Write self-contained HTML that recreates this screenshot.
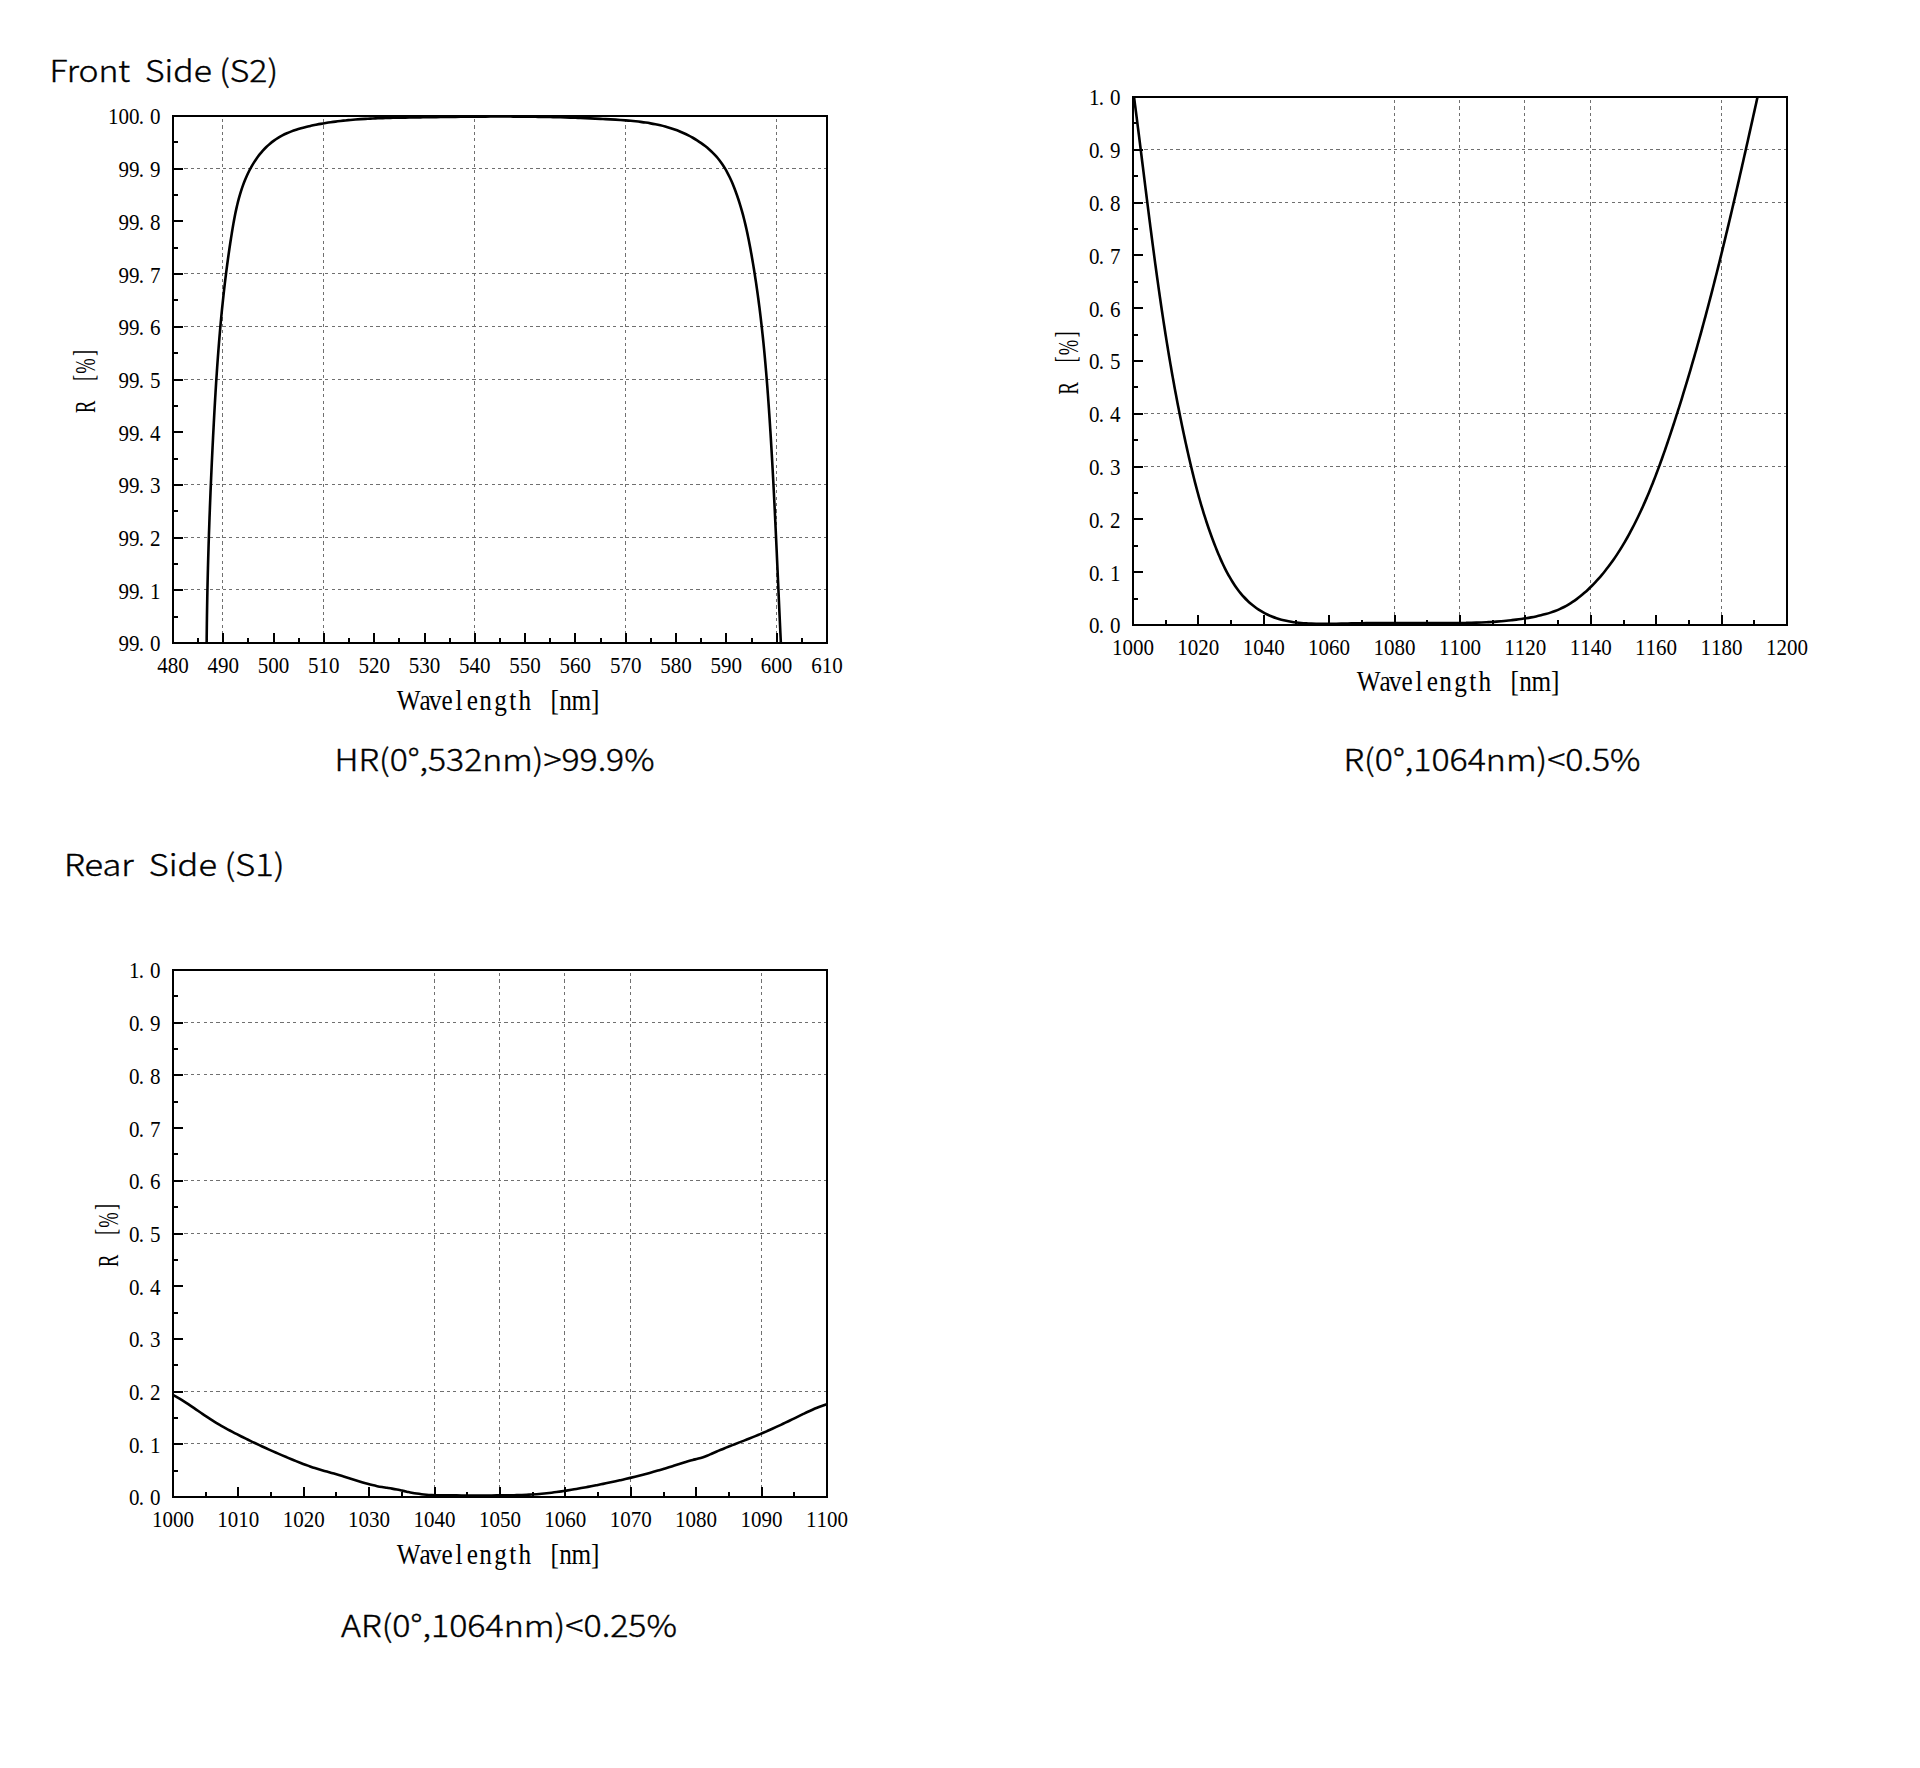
<!DOCTYPE html>
<html lang="en"><head><meta charset="utf-8"><title>Coating curves</title>
<style>
html,body{margin:0;padding:0;background:#fff;}
body{width:1920px;height:1768px;overflow:hidden;}
svg{display:block;}
.tl{font-family:'Liberation Serif', 'Noto Serif CJK SC', serif;font-size:22.9px;fill:#000;}
.at{font-family:'Liberation Serif', 'Noto Serif CJK SC', serif;font-size:29.5px;fill:#000;}
.cap{font-family:'Noto Sans CJK SC', 'Liberation Sans', sans-serif;font-weight:300;fill:#000;stroke:#000;stroke-width:0.4px;white-space:pre;}
.grid{stroke:#707070;stroke-width:1;stroke-dasharray:3.2 3.2;fill:none;shape-rendering:crispEdges;}
.frame{stroke:#000;stroke-width:2;fill:none;shape-rendering:crispEdges;}
.tick{stroke:#000;stroke-width:2;fill:none;shape-rendering:crispEdges;}
.curve{stroke:#000;stroke-width:2.6;fill:none;stroke-linejoin:round;stroke-linecap:butt;}
</style></head><body>
<svg width="1920" height="1768" viewBox="0 0 1920 1768">
<rect x="0" y="0" width="1920" height="1768" fill="#ffffff"/>
<g id="chart1">
<clipPath id="clip1"><rect x="173" y="116" width="654" height="527"/></clipPath>
<path class="grid" d="M222.5 119 V643 M323.5 119 V643 M474.5 119 V643 M625.5 119 V643 M776.5 119 V643 M178 168.5 H826 M178 273.5 H826 M178 326.5 H826 M178 379.5 H826 M178 484.5 H826 M178 537.5 H826 M178 589.5 H826"/>
<path class="tick" d="M198 643 V638 M223 643 V633 M248 643 V638 M274 643 V633 M299 643 V638 M324 643 V633 M349 643 V638 M374 643 V633 M399 643 V638 M425 643 V633 M450 643 V638 M475 643 V633 M500 643 V638 M525 643 V633 M550 643 V638 M575 643 V633 M601 643 V638 M626 643 V633 M651 643 V638 M676 643 V633 M701 643 V638 M726 643 V633 M752 643 V638 M777 643 V633 M802 643 V638 M173 617 H178 M173 590 H183 M173 564 H178 M173 538 H183 M173 511 H178 M173 485 H183 M173 459 H178 M173 432 H183 M173 406 H178 M173 380 H183 M173 353 H178 M173 327 H183 M173 300 H178 M173 274 H183 M173 248 H178 M173 221 H183 M173 195 H178 M173 169 H183 M173 142 H178"/>
<path class="curve" clip-path="url(#clip1)" d="M206.65 642.94 C206.66 642.11 206.68 639.61 206.69 637.95 C206.71 636.29 206.73 634.63 206.74 632.96 C206.76 631.3 206.78 629.64 206.8 627.97 C206.82 626.31 206.84 624.64 206.86 622.98 C206.89 621.32 206.91 619.65 206.93 617.99 C206.96 616.32 206.98 614.66 207.01 612.99 C207.03 611.33 207.06 609.66 207.09 607.99 C207.12 606.33 207.15 604.66 207.18 603 C207.21 601.33 207.24 599.66 207.27 598 C207.3 596.33 207.33 594.66 207.37 593 C207.4 591.33 207.44 589.66 207.47 588 C207.51 586.33 207.55 584.66 207.58 582.99 C207.62 581.33 207.66 579.66 207.7 577.99 C207.74 576.32 207.78 574.66 207.82 572.99 C207.86 571.32 207.91 569.65 207.95 567.98 C207.99 566.31 208.04 564.65 208.08 562.98 C208.13 561.31 208.17 559.64 208.22 557.97 C208.27 556.3 208.32 554.63 208.37 552.97 C208.41 551.3 208.46 549.63 208.52 547.96 C208.57 546.29 208.62 544.62 208.67 542.95 C208.72 541.28 208.78 539.61 208.83 537.94 C208.88 536.27 208.94 534.61 208.99 532.94 C209.05 531.27 209.11 529.6 209.17 527.93 C209.22 526.26 209.28 524.59 209.34 522.92 C209.4 521.25 209.46 519.58 209.52 517.91 C209.58 516.24 209.64 514.57 209.71 512.9 C209.77 511.23 209.83 509.57 209.9 507.9 C209.96 506.23 210.02 504.56 210.09 502.89 C210.16 501.22 210.22 499.55 210.29 497.88 C210.36 496.21 210.43 494.54 210.49 492.87 C210.56 491.21 210.63 489.54 210.7 487.87 C210.77 486.2 210.84 484.53 210.92 482.86 C210.99 481.19 211.06 479.52 211.13 477.86 C211.21 476.19 211.28 474.52 211.36 472.85 C211.43 471.18 211.51 469.52 211.58 467.85 C211.66 466.18 211.74 464.51 211.81 462.84 C211.89 461.18 211.97 459.51 212.05 457.84 C212.13 456.17 212.21 454.51 212.29 452.84 C212.37 451.17 212.45 449.51 212.53 447.84 C212.62 446.17 212.7 444.51 212.78 442.84 C212.86 441.17 212.95 439.51 213.03 437.84 C213.12 436.18 213.2 434.51 213.29 432.85 C213.38 431.18 213.46 429.51 213.55 427.85 C213.64 426.18 213.72 424.52 213.81 422.86 C213.9 421.19 213.99 419.53 214.08 417.86 C214.17 416.2 214.26 414.53 214.35 412.87 C214.45 411.21 214.54 409.54 214.63 407.88 C214.73 406.22 214.82 404.55 214.92 402.89 C215.01 401.23 215.11 399.56 215.21 397.9 C215.31 396.24 215.41 394.58 215.51 392.92 C215.61 391.25 215.71 389.59 215.81 387.93 C215.91 386.27 216.02 384.61 216.12 382.94 C216.23 381.28 216.34 379.62 216.45 377.96 C216.55 376.3 216.66 374.64 216.78 372.98 C216.89 371.32 217 369.65 217.12 367.99 C217.23 366.33 217.35 364.67 217.47 363.01 C217.59 361.35 217.71 359.69 217.83 358.03 C217.95 356.37 218.07 354.71 218.2 353.05 C218.33 351.39 218.45 349.73 218.58 348.07 C218.71 346.41 218.84 344.75 218.98 343.09 C219.11 341.43 219.25 339.77 219.39 338.11 C219.52 336.45 219.66 334.79 219.81 333.14 C219.95 331.48 220.09 329.82 220.24 328.16 C220.39 326.5 220.54 324.84 220.69 323.18 C220.84 321.52 221 319.86 221.15 318.2 C221.31 316.55 221.47 314.89 221.63 313.23 C221.79 311.57 221.96 309.91 222.12 308.25 C222.29 306.59 222.46 304.93 222.63 303.28 C222.81 301.62 222.98 299.96 223.16 298.3 C223.34 296.64 223.52 294.98 223.7 293.32 C223.89 291.67 224.07 290.01 224.26 288.35 C224.46 286.69 224.65 285.03 224.84 283.37 C225.04 281.71 225.24 280.05 225.44 278.4 C225.64 276.74 225.85 275.08 226.06 273.42 C226.27 271.76 226.48 270.1 226.7 268.44 C226.91 266.79 227.13 265.13 227.35 263.47 C227.58 261.81 227.8 260.15 228.03 258.49 C228.26 256.83 228.49 255.17 228.73 253.52 C228.97 251.86 229.21 250.2 229.45 248.54 C229.69 246.88 229.94 245.22 230.19 243.56 C230.44 241.9 230.7 240.24 230.96 238.58 C231.22 236.92 231.48 235.26 231.75 233.6 C232.01 231.94 232.28 230.28 232.56 228.63 C232.84 226.97 233.12 225.31 233.41 223.65 C233.7 222 234 220.34 234.31 218.69 C234.62 217.04 234.94 215.4 235.27 213.75 C235.61 212.11 235.95 210.47 236.32 208.84 C236.68 207.21 237.05 205.58 237.45 203.96 C237.84 202.34 238.25 200.72 238.68 199.12 C239.11 197.51 239.56 195.91 240.03 194.32 C240.5 192.73 240.99 191.15 241.51 189.58 C242.03 188 242.57 186.44 243.14 184.89 C243.7 183.34 244.29 181.8 244.92 180.27 C245.54 178.75 246.19 177.23 246.87 175.73 C247.55 174.22 248.26 172.73 249 171.26 C249.75 169.79 250.52 168.32 251.33 166.88 C252.15 165.43 252.99 164 253.88 162.59 C254.76 161.18 255.68 159.78 256.64 158.42 C257.6 157.05 258.59 155.7 259.63 154.4 C260.66 153.09 261.74 151.81 262.85 150.57 C263.97 149.33 265.12 148.13 266.32 146.98 C267.51 145.83 268.75 144.72 270.02 143.66 C271.29 142.59 272.61 141.58 273.95 140.61 C275.29 139.64 276.67 138.73 278.08 137.86 C279.48 136.99 280.92 136.18 282.39 135.41 C283.85 134.64 285.35 133.93 286.86 133.26 C288.38 132.58 289.92 131.96 291.48 131.37 C293.04 130.78 294.62 130.24 296.21 129.72 C297.8 129.2 299.41 128.73 301.03 128.27 C302.64 127.82 304.28 127.4 305.91 126.99 C307.54 126.59 309.19 126.22 310.83 125.85 C312.47 125.49 314.12 125.15 315.77 124.82 C317.42 124.5 319.06 124.18 320.71 123.89 C322.36 123.59 324.01 123.31 325.66 123.04 C327.31 122.77 328.96 122.51 330.61 122.27 C332.26 122.03 333.92 121.8 335.57 121.59 C337.22 121.37 338.88 121.17 340.53 120.97 C342.19 120.78 343.84 120.6 345.5 120.43 C347.16 120.26 348.81 120.1 350.47 119.95 C352.13 119.8 353.79 119.66 355.45 119.53 C357.11 119.4 358.77 119.28 360.43 119.17 C362.09 119.06 363.75 118.95 365.41 118.86 C367.07 118.76 368.74 118.67 370.4 118.59 C372.06 118.51 373.73 118.43 375.39 118.36 C377.05 118.29 378.72 118.23 380.38 118.17 C382.05 118.11 383.71 118.06 385.38 118.01 C387.05 117.96 388.71 117.92 390.38 117.88 C392.05 117.83 393.71 117.8 395.38 117.76 C397.05 117.73 398.72 117.7 400.38 117.67 C402.05 117.64 403.72 117.61 405.39 117.58 C407.06 117.56 408.73 117.53 410.4 117.5 C412.07 117.48 413.74 117.46 415.41 117.43 C417.08 117.41 418.75 117.38 420.42 117.35 C422.09 117.33 423.76 117.3 425.43 117.28 C427.1 117.26 428.77 117.23 430.44 117.21 C432.11 117.18 433.79 117.16 435.46 117.13 C437.13 117.11 438.8 117.09 440.47 117.06 C442.14 117.04 443.81 117.02 445.49 116.99 C447.16 116.97 448.83 116.95 450.5 116.93 C452.17 116.91 453.84 116.89 455.51 116.87 C457.19 116.85 458.86 116.83 460.53 116.81 C462.2 116.79 463.87 116.77 465.54 116.75 C467.21 116.74 468.88 116.72 470.55 116.7 C472.23 116.69 473.9 116.68 475.57 116.66 C477.24 116.65 478.91 116.64 480.58 116.63 C482.25 116.61 483.92 116.6 485.59 116.6 C487.25 116.59 488.92 116.58 490.59 116.57 C492.26 116.57 493.93 116.56 495.6 116.56 C497.27 116.56 498.93 116.55 500.6 116.55 C502.27 116.55 503.93 116.55 505.6 116.56 C507.27 116.56 508.93 116.56 510.6 116.57 C512.26 116.57 513.93 116.58 515.59 116.59 C517.26 116.6 518.92 116.61 520.58 116.62 C522.25 116.64 523.91 116.65 525.57 116.67 C527.24 116.69 528.9 116.7 530.56 116.72 C532.22 116.74 533.89 116.77 535.55 116.79 C537.21 116.82 538.87 116.84 540.53 116.87 C542.19 116.9 543.86 116.93 545.52 116.96 C547.18 116.99 548.84 117.03 550.5 117.06 C552.16 117.1 553.83 117.14 555.49 117.18 C557.15 117.22 558.81 117.26 560.48 117.31 C562.14 117.35 563.8 117.4 565.47 117.45 C567.13 117.5 568.79 117.55 570.46 117.61 C572.12 117.66 573.79 117.72 575.45 117.78 C577.12 117.83 578.78 117.9 580.45 117.96 C582.11 118.02 583.78 118.09 585.45 118.16 C587.12 118.23 588.79 118.3 590.46 118.37 C592.13 118.44 593.8 118.52 595.47 118.6 C597.14 118.68 598.81 118.76 600.48 118.84 C602.16 118.92 603.83 119.01 605.51 119.1 C607.18 119.19 608.86 119.28 610.54 119.37 C612.21 119.47 613.89 119.56 615.57 119.67 C617.25 119.77 618.93 119.88 620.61 119.99 C622.29 120.11 623.97 120.23 625.64 120.36 C627.32 120.49 629 120.63 630.67 120.79 C632.34 120.94 634.01 121.11 635.68 121.29 C637.35 121.47 639.01 121.66 640.67 121.87 C642.33 122.09 643.99 122.31 645.64 122.56 C647.29 122.8 648.94 123.07 650.58 123.36 C652.22 123.64 653.85 123.95 655.48 124.28 C657.11 124.61 658.73 124.96 660.35 125.34 C661.96 125.72 663.57 126.12 665.17 126.56 C666.77 126.99 668.36 127.45 669.94 127.94 C671.52 128.43 673.1 128.95 674.66 129.51 C676.22 130.06 677.77 130.64 679.32 131.26 C680.86 131.88 682.39 132.54 683.9 133.22 C685.42 133.91 686.92 134.63 688.4 135.38 C689.89 136.14 691.35 136.93 692.8 137.75 C694.25 138.57 695.67 139.43 697.08 140.32 C698.48 141.21 699.86 142.13 701.21 143.09 C702.56 144.05 703.89 145.04 705.19 146.06 C706.49 147.09 707.76 148.15 709 149.24 C710.23 150.34 711.44 151.46 712.61 152.62 C713.78 153.78 714.92 154.98 716.02 156.21 C717.12 157.44 718.18 158.7 719.2 160 C720.22 161.3 721.2 162.63 722.14 163.99 C723.08 165.36 723.97 166.76 724.83 168.18 C725.7 169.6 726.52 171.06 727.31 172.53 C728.1 174 728.85 175.5 729.58 177.01 C730.31 178.53 731.01 180.06 731.68 181.6 C732.36 183.14 733 184.7 733.63 186.27 C734.26 187.83 734.86 189.4 735.45 190.98 C736.04 192.55 736.6 194.13 737.16 195.71 C737.71 197.3 738.24 198.89 738.76 200.48 C739.27 202.07 739.77 203.67 740.26 205.27 C740.75 206.86 741.22 208.47 741.67 210.07 C742.13 211.68 742.57 213.29 743 214.9 C743.43 216.51 743.84 218.13 744.25 219.75 C744.65 221.37 745.04 222.99 745.42 224.61 C745.81 226.24 746.18 227.86 746.54 229.49 C746.9 231.12 747.25 232.75 747.59 234.38 C747.93 236.01 748.27 237.65 748.59 239.28 C748.92 240.92 749.24 242.55 749.55 244.19 C749.87 245.83 750.17 247.47 750.47 249.11 C750.78 250.75 751.07 252.39 751.37 254.03 C751.66 255.67 751.95 257.31 752.23 258.96 C752.51 260.6 752.79 262.24 753.07 263.89 C753.34 265.53 753.61 267.18 753.88 268.82 C754.15 270.47 754.41 272.11 754.67 273.76 C754.93 275.41 755.18 277.06 755.43 278.7 C755.68 280.35 755.93 282 756.18 283.65 C756.42 285.3 756.66 286.95 756.89 288.6 C757.13 290.25 757.36 291.9 757.59 293.55 C757.82 295.2 758.05 296.85 758.27 298.51 C758.49 300.16 758.71 301.81 758.92 303.46 C759.14 305.12 759.35 306.77 759.56 308.43 C759.76 310.08 759.97 311.74 760.17 313.39 C760.37 315.05 760.57 316.7 760.77 318.36 C760.96 320.01 761.15 321.67 761.34 323.33 C761.53 324.98 761.72 326.64 761.9 328.3 C762.09 329.96 762.27 331.62 762.44 333.27 C762.62 334.93 762.8 336.59 762.97 338.25 C763.14 339.91 763.31 341.57 763.48 343.23 C763.64 344.89 763.81 346.55 763.97 348.21 C764.13 349.87 764.29 351.53 764.45 353.19 C764.6 354.85 764.76 356.52 764.91 358.18 C765.06 359.84 765.21 361.5 765.36 363.16 C765.51 364.83 765.65 366.49 765.79 368.15 C765.94 369.81 766.08 371.48 766.22 373.14 C766.36 374.8 766.49 376.47 766.63 378.13 C766.76 379.79 766.9 381.46 767.03 383.12 C767.16 384.79 767.29 386.45 767.42 388.11 C767.54 389.78 767.67 391.44 767.79 393.11 C767.92 394.77 768.04 396.44 768.16 398.1 C768.28 399.77 768.4 401.43 768.52 403.1 C768.64 404.76 768.75 406.43 768.87 408.09 C768.98 409.76 769.1 411.42 769.21 413.09 C769.32 414.75 769.44 416.42 769.55 418.08 C769.66 419.75 769.76 421.41 769.87 423.08 C769.98 424.74 770.09 426.41 770.19 428.08 C770.3 429.74 770.4 431.41 770.51 433.07 C770.61 434.74 770.72 436.4 770.82 438.07 C770.92 439.73 771.02 441.4 771.12 443.06 C771.22 444.73 771.32 446.4 771.42 448.06 C771.52 449.73 771.61 451.39 771.71 453.06 C771.81 454.72 771.9 456.39 772 458.05 C772.09 459.72 772.19 461.38 772.28 463.05 C772.38 464.72 772.47 466.38 772.56 468.05 C772.65 469.71 772.74 471.38 772.83 473.04 C772.92 474.71 773.01 476.37 773.1 478.04 C773.19 479.71 773.28 481.37 773.37 483.04 C773.46 484.7 773.54 486.37 773.63 488.03 C773.72 489.7 773.8 491.36 773.89 493.03 C773.97 494.7 774.06 496.36 774.14 498.03 C774.23 499.69 774.31 501.36 774.39 503.02 C774.48 504.69 774.56 506.36 774.64 508.02 C774.72 509.69 774.81 511.35 774.89 513.02 C774.97 514.68 775.05 516.35 775.13 518.02 C775.21 519.68 775.29 521.35 775.37 523.01 C775.45 524.68 775.53 526.35 775.61 528.01 C775.69 529.68 775.76 531.34 775.84 533.01 C775.92 534.68 776 536.34 776.08 538.01 C776.15 539.67 776.23 541.34 776.31 543.01 C776.38 544.67 776.46 546.34 776.54 548 C776.61 549.67 776.69 551.34 776.77 553 C776.84 554.67 776.92 556.34 776.99 558 C777.07 559.67 777.14 561.33 777.22 563 C777.3 564.67 777.37 566.33 777.45 568 C777.52 569.67 777.6 571.33 777.67 573 C777.75 574.67 777.82 576.33 777.9 578 C777.97 579.67 778.04 581.33 778.12 583 C778.19 584.67 778.27 586.33 778.34 588 C778.42 589.67 778.49 591.33 778.57 593 C778.64 594.67 778.72 596.33 778.79 598 C778.87 599.67 778.94 601.33 779.02 603 C779.09 604.67 779.17 606.34 779.24 608 C779.32 609.67 779.4 611.34 779.47 613 C779.55 614.67 779.62 616.34 779.7 618.01 C779.78 619.67 779.85 621.34 779.93 623.01 C780.01 624.68 780.08 626.34 780.16 628.01 C780.24 629.68 780.31 631.35 780.39 633.01 C780.47 634.68 780.55 636.35 780.63 638.02 C780.71 639.68 780.82 642.19 780.86 643.02"/>
<rect class="frame" x="173" y="116" width="654" height="527"/>
<g class="tl">
<text transform="translate(157.15 673) scale(0.917 1)" x="0 11.45 22.9" y="0">480</text>
<text transform="translate(207.46 673) scale(0.917 1)" x="0 11.45 22.9" y="0">490</text>
<text transform="translate(257.77 673) scale(0.917 1)" x="0 11.45 22.9" y="0">500</text>
<text transform="translate(308.07 673) scale(0.917 1)" x="0 11.45 22.9" y="0">510</text>
<text transform="translate(358.38 673) scale(0.917 1)" x="0 11.45 22.9" y="0">520</text>
<text transform="translate(408.69 673) scale(0.917 1)" x="0 11.45 22.9" y="0">530</text>
<text transform="translate(459 673) scale(0.917 1)" x="0 11.45 22.9" y="0">540</text>
<text transform="translate(509.3 673) scale(0.917 1)" x="0 11.45 22.9" y="0">550</text>
<text transform="translate(559.61 673) scale(0.917 1)" x="0 11.45 22.9" y="0">560</text>
<text transform="translate(609.92 673) scale(0.917 1)" x="0 11.45 22.9" y="0">570</text>
<text transform="translate(660.23 673) scale(0.917 1)" x="0 11.45 22.9" y="0">580</text>
<text transform="translate(710.53 673) scale(0.917 1)" x="0 11.45 22.9" y="0">590</text>
<text transform="translate(760.84 673) scale(0.917 1)" x="0 11.45 22.9" y="0">600</text>
<text transform="translate(811.15 673) scale(0.917 1)" x="0 11.45 22.9" y="0">610</text>
<text transform="translate(118.5 651.4) scale(0.917 1)" x="0 11.45 22.03 34.35" y="0">99.0</text>
<text transform="translate(118.5 598.7) scale(0.917 1)" x="0 11.45 22.03 34.35" y="0">99.1</text>
<text transform="translate(118.5 546) scale(0.917 1)" x="0 11.45 22.03 34.35" y="0">99.2</text>
<text transform="translate(118.5 493.3) scale(0.917 1)" x="0 11.45 22.03 34.35" y="0">99.3</text>
<text transform="translate(118.5 440.6) scale(0.917 1)" x="0 11.45 22.03 34.35" y="0">99.4</text>
<text transform="translate(118.5 387.9) scale(0.917 1)" x="0 11.45 22.03 34.35" y="0">99.5</text>
<text transform="translate(118.5 335.2) scale(0.917 1)" x="0 11.45 22.03 34.35" y="0">99.6</text>
<text transform="translate(118.5 282.5) scale(0.917 1)" x="0 11.45 22.03 34.35" y="0">99.7</text>
<text transform="translate(118.5 229.8) scale(0.917 1)" x="0 11.45 22.03 34.35" y="0">99.8</text>
<text transform="translate(118.5 177.1) scale(0.917 1)" x="0 11.45 22.03 34.35" y="0">99.9</text>
<text transform="translate(108 124.4) scale(0.917 1)" x="0 11.45 22.9 33.48 45.8" y="0">100.0</text>
</g>
<text class="at" transform="translate(397.95 709.5) scale(0.855 1)" x="-1.4 25.26 36.26 50.99 67.37 80.58 94.97 112.75 130.06 141.05 157.89 178.48 188.77 203.04 225.73" y="0">Wavelength [nm]</text>
<text class="at" transform="translate(95 379.5) rotate(-90) scale(0.63 1)" x="-53.17 -25.12 -2.37 9.14 37.31" y="0 0 -2.4 0 -2.4">R [%]</text>
</g>
<g id="chart2">
<clipPath id="clip2"><rect x="1133" y="97" width="654" height="528"/></clipPath>
<path class="grid" d="M1394.5 100 V625 M1459.5 100 V625 M1524.5 100 V625 M1590.5 100 V625 M1721.5 100 V625 M1138 149.5 H1786 M1138 202.5 H1786 M1138 413.5 H1786 M1138 466.5 H1786"/>
<path class="tick" d="M1166 625 V620 M1198 625 V615 M1231 625 V620 M1264 625 V615 M1296 625 V620 M1329 625 V615 M1362 625 V620 M1395 625 V615 M1427 625 V620 M1460 625 V615 M1493 625 V620 M1525 625 V615 M1558 625 V620 M1591 625 V615 M1624 625 V620 M1656 625 V615 M1689 625 V620 M1722 625 V615 M1754 625 V620 M1133 599 H1138 M1133 572 H1143 M1133 546 H1138 M1133 519 H1143 M1133 493 H1138 M1133 467 H1143 M1133 440 H1138 M1133 414 H1143 M1133 387 H1138 M1133 361 H1143 M1133 335 H1138 M1133 308 H1143 M1133 282 H1138 M1133 255 H1143 M1133 229 H1138 M1133 203 H1143 M1133 176 H1138 M1133 150 H1143 M1133 123 H1138"/>
<path class="curve" clip-path="url(#clip2)" d="M1134.11 97.64 C1134.21 98.47 1134.54 100.93 1134.75 102.58 C1134.96 104.23 1135.18 105.87 1135.39 107.52 C1135.6 109.17 1135.81 110.81 1136.03 112.46 C1136.24 114.11 1136.45 115.76 1136.66 117.4 C1136.87 119.05 1137.08 120.7 1137.29 122.35 C1137.5 124 1137.71 125.65 1137.92 127.3 C1138.13 128.95 1138.33 130.6 1138.54 132.25 C1138.75 133.9 1138.96 135.55 1139.17 137.2 C1139.37 138.85 1139.58 140.5 1139.79 142.15 C1139.99 143.81 1140.2 145.46 1140.41 147.11 C1140.61 148.76 1140.82 150.41 1141.03 152.07 C1141.23 153.72 1141.44 155.37 1141.64 157.03 C1141.85 158.68 1142.06 160.33 1142.26 161.99 C1142.47 163.64 1142.67 165.29 1142.88 166.95 C1143.08 168.6 1143.29 170.25 1143.5 171.91 C1143.7 173.56 1143.91 175.22 1144.11 176.87 C1144.32 178.53 1144.52 180.18 1144.73 181.84 C1144.94 183.49 1145.14 185.15 1145.35 186.8 C1145.56 188.46 1145.76 190.11 1145.97 191.77 C1146.18 193.43 1146.38 195.08 1146.59 196.74 C1146.8 198.39 1147.01 200.05 1147.21 201.7 C1147.42 203.36 1147.63 205.02 1147.84 206.67 C1148.05 208.33 1148.26 209.98 1148.47 211.64 C1148.68 213.3 1148.89 214.95 1149.1 216.61 C1149.31 218.27 1149.52 219.92 1149.73 221.58 C1149.94 223.24 1150.15 224.89 1150.37 226.55 C1150.58 228.2 1150.79 229.86 1151.01 231.52 C1151.22 233.17 1151.43 234.83 1151.65 236.49 C1151.86 238.14 1152.08 239.8 1152.3 241.46 C1152.51 243.11 1152.73 244.77 1152.95 246.42 C1153.17 248.08 1153.39 249.74 1153.61 251.39 C1153.83 253.05 1154.05 254.7 1154.27 256.36 C1154.49 258.02 1154.71 259.67 1154.93 261.33 C1155.16 262.98 1155.38 264.64 1155.61 266.29 C1155.83 267.95 1156.06 269.6 1156.28 271.26 C1156.51 272.91 1156.74 274.57 1156.97 276.22 C1157.2 277.88 1157.43 279.53 1157.66 281.19 C1157.89 282.84 1158.12 284.5 1158.35 286.15 C1158.59 287.8 1158.82 289.46 1159.06 291.11 C1159.29 292.76 1159.53 294.42 1159.77 296.07 C1160.01 297.72 1160.25 299.38 1160.49 301.03 C1160.73 302.68 1160.97 304.33 1161.21 305.99 C1161.46 307.64 1161.7 309.29 1161.95 310.94 C1162.2 312.59 1162.44 314.24 1162.69 315.9 C1162.94 317.55 1163.19 319.2 1163.44 320.85 C1163.7 322.5 1163.95 324.15 1164.2 325.8 C1164.46 327.45 1164.72 329.1 1164.97 330.74 C1165.23 332.39 1165.49 334.04 1165.75 335.69 C1166.01 337.34 1166.28 338.99 1166.54 340.63 C1166.81 342.28 1167.07 343.93 1167.34 345.58 C1167.61 347.22 1167.88 348.87 1168.15 350.51 C1168.42 352.16 1168.7 353.81 1168.97 355.45 C1169.25 357.1 1169.52 358.74 1169.8 360.38 C1170.08 362.03 1170.36 363.67 1170.65 365.31 C1170.93 366.96 1171.21 368.6 1171.5 370.24 C1171.79 371.89 1172.08 373.53 1172.37 375.17 C1172.66 376.81 1172.95 378.45 1173.24 380.09 C1173.54 381.73 1173.84 383.37 1174.14 385.01 C1174.43 386.65 1174.74 388.29 1175.04 389.92 C1175.34 391.56 1175.65 393.2 1175.96 394.84 C1176.26 396.47 1176.57 398.11 1176.89 399.75 C1177.2 401.38 1177.51 403.02 1177.83 404.65 C1178.15 406.29 1178.46 407.92 1178.79 409.55 C1179.11 411.19 1179.43 412.82 1179.76 414.45 C1180.08 416.08 1180.41 417.71 1180.74 419.35 C1181.07 420.98 1181.41 422.61 1181.74 424.24 C1182.08 425.86 1182.42 427.49 1182.76 429.12 C1183.1 430.75 1183.44 432.38 1183.79 434 C1184.14 435.63 1184.49 437.26 1184.84 438.88 C1185.19 440.51 1185.54 442.13 1185.9 443.75 C1186.26 445.38 1186.62 447 1186.98 448.62 C1187.34 450.25 1187.71 451.87 1188.07 453.49 C1188.44 455.11 1188.81 456.73 1189.19 458.35 C1189.56 459.97 1189.94 461.59 1190.32 463.2 C1190.7 464.82 1191.08 466.44 1191.47 468.05 C1191.86 469.67 1192.25 471.28 1192.64 472.9 C1193.04 474.51 1193.44 476.12 1193.84 477.74 C1194.25 479.35 1194.66 480.96 1195.07 482.57 C1195.48 484.18 1195.9 485.79 1196.33 487.4 C1196.75 489 1197.18 490.61 1197.62 492.22 C1198.05 493.82 1198.5 495.43 1198.94 497.03 C1199.39 498.63 1199.85 500.24 1200.31 501.84 C1200.77 503.44 1201.24 505.04 1201.71 506.64 C1202.19 508.24 1202.67 509.83 1203.16 511.43 C1203.65 513.03 1204.14 514.62 1204.65 516.22 C1205.15 517.81 1205.67 519.4 1206.19 520.99 C1206.71 522.58 1207.24 524.17 1207.78 525.76 C1208.31 527.35 1208.86 528.94 1209.42 530.52 C1209.97 532.11 1210.54 533.69 1211.11 535.27 C1211.69 536.86 1212.27 538.44 1212.86 540.02 C1213.46 541.6 1214.06 543.17 1214.67 544.75 C1215.29 546.33 1215.91 547.9 1216.55 549.47 C1217.18 551.05 1217.83 552.62 1218.49 554.18 C1219.15 555.75 1219.82 557.31 1220.5 558.87 C1221.19 560.42 1221.89 561.97 1222.61 563.5 C1223.33 565.04 1224.06 566.56 1224.81 568.08 C1225.56 569.59 1226.33 571.09 1227.12 572.57 C1227.91 574.05 1228.72 575.52 1229.56 576.97 C1230.39 578.42 1231.24 579.86 1232.12 581.26 C1233 582.67 1233.9 584.06 1234.82 585.43 C1235.75 586.79 1236.7 588.14 1237.68 589.45 C1238.66 590.76 1239.67 592.05 1240.7 593.31 C1241.74 594.57 1242.8 595.8 1243.9 597 C1245 598.19 1246.12 599.36 1247.28 600.49 C1248.44 601.62 1249.63 602.71 1250.86 603.77 C1252.09 604.83 1253.35 605.85 1254.65 606.83 C1255.94 607.81 1257.28 608.75 1258.65 609.65 C1260.02 610.54 1261.43 611.4 1262.86 612.21 C1264.3 613.02 1265.77 613.78 1267.27 614.5 C1268.76 615.22 1270.29 615.89 1271.83 616.51 C1273.38 617.13 1274.95 617.7 1276.54 618.23 C1278.12 618.75 1279.73 619.22 1281.35 619.65 C1282.96 620.08 1284.6 620.46 1286.24 620.8 C1287.88 621.15 1289.53 621.45 1291.19 621.73 C1292.84 622 1294.5 622.24 1296.17 622.45 C1297.83 622.66 1299.49 622.85 1301.15 623 C1302.82 623.16 1304.48 623.29 1306.15 623.41 C1307.82 623.52 1309.49 623.6 1311.16 623.67 C1312.82 623.75 1314.49 623.79 1316.17 623.83 C1317.84 623.87 1319.51 623.88 1321.18 623.89 C1322.85 623.9 1324.52 623.89 1326.2 623.88 C1327.87 623.87 1329.54 623.84 1331.21 623.81 C1332.89 623.78 1334.56 623.74 1336.23 623.7 C1337.91 623.67 1339.58 623.62 1341.25 623.58 C1342.92 623.54 1344.59 623.5 1346.27 623.46 C1347.94 623.42 1349.61 623.39 1351.28 623.35 C1352.95 623.32 1354.62 623.29 1356.29 623.27 C1357.95 623.24 1359.62 623.22 1361.29 623.19 C1362.96 623.17 1364.63 623.15 1366.29 623.14 C1367.96 623.12 1369.63 623.11 1371.29 623.09 C1372.96 623.08 1374.63 623.07 1376.29 623.06 C1377.96 623.05 1379.62 623.04 1381.29 623.04 C1382.95 623.03 1384.62 623.03 1386.28 623.03 C1387.95 623.02 1389.61 623.02 1391.28 623.02 C1392.94 623.02 1394.61 623.02 1396.27 623.03 C1397.94 623.03 1399.6 623.03 1401.27 623.03 C1402.93 623.04 1404.6 623.04 1406.26 623.05 C1407.93 623.05 1409.59 623.05 1411.26 623.06 C1412.92 623.06 1414.59 623.07 1416.25 623.08 C1417.92 623.08 1419.58 623.09 1421.25 623.09 C1422.92 623.1 1424.58 623.1 1426.25 623.11 C1427.92 623.11 1429.58 623.11 1431.25 623.12 C1432.92 623.12 1434.59 623.12 1436.25 623.12 C1437.92 623.13 1439.59 623.13 1441.26 623.13 C1442.93 623.13 1444.6 623.12 1446.27 623.12 C1447.94 623.12 1449.61 623.11 1451.28 623.1 C1452.95 623.09 1454.62 623.08 1456.29 623.06 C1457.96 623.05 1459.63 623.03 1461.3 623 C1462.97 622.98 1464.64 622.95 1466.31 622.92 C1467.98 622.88 1469.65 622.84 1471.32 622.8 C1472.99 622.75 1474.66 622.7 1476.33 622.65 C1478 622.59 1479.67 622.53 1481.34 622.45 C1483 622.38 1484.67 622.31 1486.34 622.22 C1488.01 622.13 1489.67 622.04 1491.34 621.93 C1493 621.83 1494.67 621.72 1496.33 621.59 C1498 621.47 1499.66 621.34 1501.32 621.2 C1502.98 621.06 1504.65 620.9 1506.31 620.74 C1507.97 620.58 1509.62 620.4 1511.28 620.22 C1512.94 620.03 1514.6 619.83 1516.25 619.62 C1517.91 619.41 1519.56 619.19 1521.21 618.95 C1522.87 618.71 1524.52 618.47 1526.17 618.2 C1527.82 617.94 1529.46 617.66 1531.11 617.36 C1532.75 617.06 1534.39 616.75 1536.02 616.41 C1537.65 616.07 1539.27 615.71 1540.89 615.32 C1542.5 614.93 1544.11 614.52 1545.7 614.07 C1547.29 613.62 1548.87 613.15 1550.44 612.63 C1552.01 612.12 1553.56 611.58 1555.09 610.99 C1556.63 610.4 1558.15 609.78 1559.65 609.11 C1561.14 608.44 1562.62 607.73 1564.08 606.98 C1565.54 606.22 1566.98 605.42 1568.39 604.58 C1569.81 603.74 1571.2 602.86 1572.58 601.95 C1573.96 601.03 1575.31 600.08 1576.65 599.09 C1577.98 598.11 1579.3 597.09 1580.59 596.04 C1581.89 595 1583.16 593.92 1584.42 592.82 C1585.68 591.72 1586.92 590.6 1588.13 589.45 C1589.35 588.31 1590.55 587.14 1591.73 585.96 C1592.91 584.77 1594.08 583.57 1595.22 582.36 C1596.36 581.14 1597.49 579.91 1598.6 578.67 C1599.71 577.42 1600.8 576.16 1601.87 574.89 C1602.94 573.62 1604 572.33 1605.04 571.03 C1606.08 569.73 1607.11 568.42 1608.11 567.09 C1609.12 565.77 1610.11 564.43 1611.09 563.08 C1612.07 561.73 1613.03 560.38 1613.98 559.01 C1614.93 557.64 1615.86 556.25 1616.78 554.86 C1617.7 553.47 1618.61 552.07 1619.5 550.66 C1620.39 549.26 1621.27 547.84 1622.14 546.41 C1623 544.98 1623.86 543.55 1624.7 542.11 C1625.54 540.66 1626.37 539.21 1627.19 537.76 C1628.01 536.3 1628.82 534.84 1629.61 533.37 C1630.41 531.9 1631.19 530.42 1631.97 528.94 C1632.74 527.46 1633.51 525.98 1634.27 524.49 C1635.02 523 1635.77 521.5 1636.5 520 C1637.24 518.51 1637.97 517 1638.69 515.5 C1639.41 513.99 1640.12 512.48 1640.82 510.97 C1641.52 509.46 1642.22 507.94 1642.9 506.42 C1643.59 504.9 1644.27 503.38 1644.94 501.85 C1645.61 500.33 1646.27 498.8 1646.93 497.27 C1647.58 495.73 1648.23 494.2 1648.88 492.66 C1649.52 491.12 1650.15 489.58 1650.78 488.04 C1651.41 486.49 1652.03 484.95 1652.65 483.4 C1653.26 481.85 1653.87 480.3 1654.48 478.75 C1655.08 477.19 1655.68 475.64 1656.27 474.08 C1656.86 472.52 1657.45 470.96 1658.03 469.4 C1658.61 467.84 1659.19 466.27 1659.76 464.71 C1660.34 463.14 1660.9 461.57 1661.47 460 C1662.03 458.43 1662.59 456.86 1663.14 455.29 C1663.7 453.72 1664.25 452.14 1664.8 450.57 C1665.34 448.99 1665.89 447.42 1666.43 445.84 C1666.97 444.26 1667.5 442.68 1668.04 441.1 C1668.57 439.52 1669.1 437.94 1669.63 436.36 C1670.16 434.78 1670.69 433.19 1671.21 431.61 C1671.73 430.03 1672.26 428.44 1672.77 426.86 C1673.29 425.27 1673.81 423.69 1674.33 422.1 C1674.84 420.52 1675.35 418.93 1675.86 417.34 C1676.37 415.75 1676.88 414.17 1677.39 412.58 C1677.89 410.99 1678.4 409.4 1678.9 407.81 C1679.4 406.22 1679.9 404.63 1680.4 403.04 C1680.89 401.44 1681.39 399.85 1681.88 398.26 C1682.37 396.67 1682.86 395.07 1683.35 393.48 C1683.84 391.88 1684.33 390.29 1684.81 388.7 C1685.3 387.1 1685.78 385.5 1686.26 383.91 C1686.74 382.31 1687.22 380.71 1687.7 379.12 C1688.18 377.52 1688.65 375.92 1689.12 374.32 C1689.6 372.72 1690.07 371.12 1690.54 369.52 C1691.01 367.92 1691.47 366.32 1691.94 364.72 C1692.41 363.12 1692.87 361.52 1693.33 359.92 C1693.79 358.32 1694.25 356.71 1694.71 355.11 C1695.17 353.51 1695.63 351.9 1696.08 350.3 C1696.54 348.7 1696.99 347.09 1697.44 345.49 C1697.89 343.88 1698.34 342.27 1698.79 340.67 C1699.24 339.06 1699.68 337.46 1700.13 335.85 C1700.57 334.24 1701.01 332.63 1701.46 331.03 C1701.9 329.42 1702.34 327.81 1702.78 326.2 C1703.21 324.59 1703.65 322.98 1704.08 321.37 C1704.52 319.76 1704.95 318.15 1705.39 316.54 C1705.82 314.93 1706.25 313.32 1706.68 311.71 C1707.11 310.1 1707.53 308.48 1707.96 306.87 C1708.38 305.26 1708.81 303.65 1709.23 302.03 C1709.65 300.42 1710.08 298.8 1710.5 297.19 C1710.92 295.58 1711.34 293.96 1711.75 292.35 C1712.17 290.73 1712.59 289.12 1713 287.5 C1713.42 285.89 1713.83 284.27 1714.24 282.65 C1714.65 281.04 1715.07 279.42 1715.47 277.8 C1715.88 276.19 1716.29 274.57 1716.7 272.95 C1717.11 271.33 1717.51 269.72 1717.92 268.1 C1718.32 266.48 1718.73 264.86 1719.13 263.24 C1719.53 261.62 1719.93 260 1720.33 258.38 C1720.73 256.76 1721.13 255.14 1721.53 253.52 C1721.93 251.9 1722.32 250.28 1722.72 248.66 C1723.12 247.04 1723.51 245.42 1723.9 243.8 C1724.3 242.18 1724.69 240.56 1725.08 238.93 C1725.47 237.31 1725.86 235.69 1726.25 234.07 C1726.64 232.45 1727.03 230.82 1727.42 229.2 C1727.81 227.58 1728.19 225.96 1728.58 224.33 C1728.97 222.71 1729.35 221.09 1729.73 219.46 C1730.12 217.84 1730.5 216.21 1730.88 214.59 C1731.27 212.97 1731.65 211.34 1732.03 209.72 C1732.41 208.09 1732.79 206.47 1733.17 204.84 C1733.55 203.22 1733.93 201.59 1734.3 199.97 C1734.68 198.34 1735.06 196.72 1735.44 195.09 C1735.81 193.47 1736.19 191.84 1736.56 190.22 C1736.94 188.59 1737.31 186.97 1737.69 185.34 C1738.06 183.71 1738.43 182.09 1738.8 180.46 C1739.18 178.83 1739.55 177.21 1739.92 175.58 C1740.29 173.96 1740.66 172.33 1741.03 170.7 C1741.4 169.08 1741.77 167.45 1742.14 165.82 C1742.51 164.2 1742.88 162.57 1743.25 160.94 C1743.61 159.31 1743.98 157.69 1744.35 156.06 C1744.72 154.43 1745.08 152.81 1745.45 151.18 C1745.82 149.55 1746.18 147.93 1746.55 146.3 C1746.91 144.67 1747.28 143.04 1747.64 141.42 C1748.01 139.79 1748.37 138.16 1748.74 136.53 C1749.1 134.91 1749.46 133.28 1749.83 131.65 C1750.19 130.02 1750.55 128.4 1750.92 126.77 C1751.28 125.14 1751.64 123.51 1752.01 121.89 C1752.37 120.26 1752.73 118.63 1753.09 117.01 C1753.45 115.38 1753.82 113.75 1754.18 112.12 C1754.54 110.5 1754.9 108.87 1755.26 107.24 C1755.63 105.62 1755.99 103.99 1756.35 102.36 C1756.71 100.73 1757.25 98.29 1757.43 97.48"/>
<rect class="frame" x="1133" y="97" width="654" height="528"/>
<g class="tl">
<text transform="translate(1111.9 655) scale(0.917 1)" x="0 11.45 22.9 34.35" y="0">1000</text>
<text transform="translate(1177.3 655) scale(0.917 1)" x="0 11.45 22.9 34.35" y="0">1020</text>
<text transform="translate(1242.7 655) scale(0.917 1)" x="0 11.45 22.9 34.35" y="0">1040</text>
<text transform="translate(1308.1 655) scale(0.917 1)" x="0 11.45 22.9 34.35" y="0">1060</text>
<text transform="translate(1373.5 655) scale(0.917 1)" x="0 11.45 22.9 34.35" y="0">1080</text>
<text transform="translate(1438.9 655) scale(0.917 1)" x="0 11.45 22.9 34.35" y="0">1100</text>
<text transform="translate(1504.3 655) scale(0.917 1)" x="0 11.45 22.9 34.35" y="0">1120</text>
<text transform="translate(1569.7 655) scale(0.917 1)" x="0 11.45 22.9 34.35" y="0">1140</text>
<text transform="translate(1635.1 655) scale(0.917 1)" x="0 11.45 22.9 34.35" y="0">1160</text>
<text transform="translate(1700.5 655) scale(0.917 1)" x="0 11.45 22.9 34.35" y="0">1180</text>
<text transform="translate(1765.9 655) scale(0.917 1)" x="0 11.45 22.9 34.35" y="0">1200</text>
<text transform="translate(1089 633.4) scale(0.917 1)" x="0 10.58 22.9" y="0">0.0</text>
<text transform="translate(1089 580.6) scale(0.917 1)" x="0 10.58 22.9" y="0">0.1</text>
<text transform="translate(1089 527.8) scale(0.917 1)" x="0 10.58 22.9" y="0">0.2</text>
<text transform="translate(1089 475) scale(0.917 1)" x="0 10.58 22.9" y="0">0.3</text>
<text transform="translate(1089 422.2) scale(0.917 1)" x="0 10.58 22.9" y="0">0.4</text>
<text transform="translate(1089 369.4) scale(0.917 1)" x="0 10.58 22.9" y="0">0.5</text>
<text transform="translate(1089 316.6) scale(0.917 1)" x="0 10.58 22.9" y="0">0.6</text>
<text transform="translate(1089 263.8) scale(0.917 1)" x="0 10.58 22.9" y="0">0.7</text>
<text transform="translate(1089 211) scale(0.917 1)" x="0 10.58 22.9" y="0">0.8</text>
<text transform="translate(1089 158.2) scale(0.917 1)" x="0 10.58 22.9" y="0">0.9</text>
<text transform="translate(1089 105.4) scale(0.917 1)" x="0 10.58 22.9" y="0">1.0</text>
</g>
<text class="at" transform="translate(1357.95 690.8) scale(0.855 1)" x="-1.4 25.26 36.26 50.99 67.37 80.58 94.97 112.75 130.06 141.05 157.89 178.48 188.77 203.04 225.73" y="0">Wavelength [nm]</text>
<text class="at" transform="translate(1077.6 361) rotate(-90) scale(0.63 1)" x="-53.17 -25.12 -2.37 9.14 37.31" y="0 0 -2.4 0 -2.4">R [%]</text>
</g>
<g id="chart3">
<clipPath id="clip3"><rect x="173" y="970" width="654" height="527"/></clipPath>
<path class="grid" d="M434.5 973 V1497 M499.5 973 V1497 M564.5 973 V1497 M630.5 973 V1497 M761.5 973 V1497 M178 1022.5 H826 M178 1074.5 H826 M178 1180.5 H826 M178 1233.5 H826 M178 1391.5 H826 M178 1443.5 H826"/>
<path class="tick" d="M206 1497 V1492 M238 1497 V1487 M271 1497 V1492 M304 1497 V1487 M336 1497 V1492 M369 1497 V1487 M402 1497 V1492 M435 1497 V1487 M467 1497 V1492 M500 1497 V1487 M533 1497 V1492 M565 1497 V1487 M598 1497 V1492 M631 1497 V1487 M664 1497 V1492 M696 1497 V1487 M729 1497 V1492 M762 1497 V1487 M794 1497 V1492 M173 1471 H178 M173 1444 H183 M173 1418 H178 M173 1392 H183 M173 1365 H178 M173 1339 H183 M173 1313 H178 M173 1286 H183 M173 1260 H178 M173 1234 H183 M173 1207 H178 M173 1181 H183 M173 1154 H178 M173 1128 H183 M173 1102 H178 M173 1075 H183 M173 1049 H178 M173 1023 H183 M173 996 H178"/>
<path class="curve" clip-path="url(#clip3)" d="M172.98 1394.84 C173.7 1395.25 175.9 1396.45 177.35 1397.29 C178.79 1398.14 180.21 1399 181.63 1399.89 C183.05 1400.77 184.45 1401.67 185.85 1402.58 C187.25 1403.5 188.63 1404.43 190.02 1405.36 C191.4 1406.29 192.78 1407.24 194.15 1408.18 C195.53 1409.13 196.9 1410.08 198.28 1411.03 C199.65 1411.97 201.03 1412.92 202.41 1413.86 C203.79 1414.8 205.17 1415.73 206.57 1416.65 C207.96 1417.57 209.36 1418.49 210.76 1419.38 C212.17 1420.28 213.59 1421.16 215.01 1422.03 C216.44 1422.89 217.87 1423.75 219.31 1424.59 C220.75 1425.44 222.2 1426.27 223.65 1427.09 C225.11 1427.91 226.57 1428.72 228.03 1429.52 C229.5 1430.32 230.97 1431.1 232.45 1431.89 C233.92 1432.67 235.41 1433.44 236.89 1434.2 C238.38 1434.96 239.87 1435.72 241.36 1436.47 C242.85 1437.22 244.35 1437.96 245.84 1438.69 C247.34 1439.43 248.84 1440.16 250.35 1440.88 C251.85 1441.61 253.36 1442.32 254.87 1443.03 C256.37 1443.75 257.88 1444.45 259.4 1445.16 C260.91 1445.86 262.43 1446.55 263.94 1447.25 C265.46 1447.94 266.98 1448.62 268.5 1449.31 C270.02 1449.99 271.54 1450.67 273.07 1451.34 C274.59 1452.02 276.12 1452.69 277.65 1453.35 C279.18 1454.02 280.71 1454.69 282.24 1455.34 C283.77 1456 285.3 1456.66 286.83 1457.31 C288.37 1457.96 289.91 1458.61 291.45 1459.25 C292.98 1459.89 294.53 1460.52 296.07 1461.14 C297.62 1461.76 299.17 1462.37 300.72 1462.97 C302.27 1463.57 303.83 1464.16 305.39 1464.73 C306.96 1465.3 308.52 1465.86 310.09 1466.41 C311.67 1466.95 313.24 1467.48 314.83 1467.98 C316.41 1468.49 318 1468.98 319.59 1469.47 C321.19 1469.95 322.79 1470.41 324.39 1470.88 C325.99 1471.34 327.59 1471.79 329.19 1472.25 C330.8 1472.71 332.4 1473.16 334.01 1473.62 C335.61 1474.08 337.21 1474.54 338.81 1475.01 C340.42 1475.48 342.01 1475.97 343.61 1476.46 C345.21 1476.95 346.81 1477.44 348.4 1477.94 C349.99 1478.44 351.59 1478.95 353.18 1479.45 C354.77 1479.95 356.36 1480.46 357.95 1480.96 C359.54 1481.46 361.13 1481.96 362.72 1482.44 C364.31 1482.92 365.9 1483.4 367.51 1483.84 C369.11 1484.28 370.71 1484.71 372.33 1485.1 C373.94 1485.48 375.56 1485.84 377.19 1486.16 C378.83 1486.48 380.47 1486.76 382.11 1487.03 C383.76 1487.31 385.41 1487.55 387.06 1487.82 C388.71 1488.08 390.37 1488.33 392.02 1488.62 C393.66 1488.91 395.31 1489.22 396.95 1489.54 C398.59 1489.87 400.23 1490.23 401.87 1490.58 C403.5 1490.93 405.14 1491.3 406.77 1491.65 C408.41 1491.99 410.04 1492.35 411.68 1492.67 C413.32 1492.99 414.96 1493.3 416.6 1493.57 C418.25 1493.84 419.89 1494.07 421.55 1494.27 C423.2 1494.47 424.86 1494.62 426.52 1494.75 C428.18 1494.87 429.84 1494.96 431.51 1495.04 C433.17 1495.11 434.84 1495.16 436.51 1495.2 C438.18 1495.24 439.86 1495.26 441.53 1495.28 C443.2 1495.3 444.87 1495.32 446.54 1495.33 C448.21 1495.35 449.88 1495.36 451.55 1495.38 C453.22 1495.39 454.89 1495.4 456.56 1495.41 C458.23 1495.42 459.9 1495.43 461.57 1495.43 C463.24 1495.44 464.91 1495.45 466.58 1495.45 C468.25 1495.45 469.92 1495.46 471.58 1495.46 C473.25 1495.46 474.92 1495.46 476.59 1495.46 C478.26 1495.46 479.93 1495.46 481.6 1495.45 C483.27 1495.45 484.94 1495.45 486.61 1495.44 C488.28 1495.44 489.94 1495.43 491.61 1495.43 C493.28 1495.42 494.95 1495.41 496.62 1495.4 C498.29 1495.4 499.96 1495.39 501.63 1495.37 C503.3 1495.36 504.97 1495.34 506.64 1495.32 C508.31 1495.3 509.98 1495.28 511.65 1495.24 C513.32 1495.21 514.98 1495.18 516.65 1495.13 C518.32 1495.09 519.99 1495.04 521.65 1494.98 C523.32 1494.92 524.99 1494.85 526.65 1494.77 C528.32 1494.69 529.98 1494.61 531.65 1494.51 C533.31 1494.41 534.97 1494.3 536.63 1494.18 C538.3 1494.06 539.96 1493.93 541.62 1493.78 C543.28 1493.63 544.93 1493.47 546.59 1493.29 C548.25 1493.12 549.91 1492.93 551.56 1492.72 C553.21 1492.52 554.87 1492.31 556.52 1492.08 C558.17 1491.86 559.82 1491.62 561.48 1491.38 C563.13 1491.13 564.77 1490.87 566.42 1490.61 C568.07 1490.35 569.72 1490.08 571.37 1489.8 C573.01 1489.53 574.66 1489.24 576.3 1488.95 C577.95 1488.67 579.59 1488.37 581.23 1488.08 C582.88 1487.78 584.52 1487.48 586.16 1487.18 C587.8 1486.87 589.44 1486.57 591.08 1486.25 C592.72 1485.94 594.36 1485.63 596 1485.31 C597.64 1484.99 599.28 1484.66 600.91 1484.33 C602.55 1484 604.18 1483.67 605.82 1483.33 C607.45 1482.99 609.08 1482.65 610.71 1482.3 C612.35 1481.96 613.98 1481.6 615.61 1481.25 C617.23 1480.89 618.86 1480.52 620.49 1480.16 C622.12 1479.79 623.74 1479.42 625.37 1479.04 C626.99 1478.66 628.61 1478.27 630.24 1477.88 C631.86 1477.49 633.48 1477.1 635.1 1476.7 C636.71 1476.29 638.33 1475.89 639.95 1475.47 C641.56 1475.06 643.18 1474.64 644.79 1474.21 C646.4 1473.79 648.02 1473.36 649.62 1472.92 C651.23 1472.48 652.84 1472.03 654.45 1471.58 C656.06 1471.13 657.66 1470.67 659.26 1470.2 C660.87 1469.74 662.47 1469.27 664.07 1468.79 C665.67 1468.31 667.27 1467.82 668.86 1467.33 C670.46 1466.83 672.05 1466.33 673.64 1465.82 C675.24 1465.32 676.83 1464.8 678.42 1464.29 C680.01 1463.78 681.6 1463.27 683.2 1462.78 C684.79 1462.28 686.38 1461.79 687.98 1461.32 C689.58 1460.86 691.18 1460.41 692.79 1459.98 C694.4 1459.55 696.02 1459.19 697.62 1458.76 C699.22 1458.34 700.82 1457.94 702.4 1457.43 C703.97 1456.92 705.52 1456.33 707.06 1455.72 C708.6 1455.1 710.11 1454.42 711.64 1453.75 C713.16 1453.08 714.68 1452.39 716.21 1451.72 C717.74 1451.06 719.27 1450.41 720.81 1449.77 C722.35 1449.12 723.89 1448.5 725.44 1447.87 C726.99 1447.25 728.54 1446.63 730.09 1446.02 C731.65 1445.41 733.2 1444.81 734.76 1444.2 C736.31 1443.6 737.87 1443 739.43 1442.4 C740.99 1441.8 742.54 1441.2 744.1 1440.59 C745.65 1439.99 747.21 1439.38 748.76 1438.77 C750.31 1438.15 751.86 1437.53 753.41 1436.91 C754.95 1436.28 756.5 1435.64 758.03 1435 C759.57 1434.36 761.11 1433.7 762.64 1433.04 C764.17 1432.39 765.7 1431.72 767.23 1431.05 C768.75 1430.37 770.27 1429.69 771.79 1429.01 C773.31 1428.32 774.83 1427.63 776.34 1426.93 C777.86 1426.23 779.37 1425.52 780.88 1424.81 C782.39 1424.11 783.9 1423.39 785.4 1422.67 C786.91 1421.95 788.41 1421.23 789.91 1420.5 C791.41 1419.77 792.91 1419.03 794.41 1418.3 C795.91 1417.57 797.4 1416.83 798.9 1416.09 C800.4 1415.36 801.9 1414.63 803.4 1413.9 C804.91 1413.18 806.41 1412.46 807.93 1411.76 C809.44 1411.06 810.96 1410.37 812.49 1409.7 C814.01 1409.03 815.54 1408.37 817.09 1407.75 C818.63 1407.12 820.19 1406.5 821.75 1405.93 C823.32 1405.35 825.7 1404.55 826.49 1404.27"/>
<rect class="frame" x="173" y="970" width="654" height="527"/>
<g class="tl">
<text transform="translate(151.9 1527) scale(0.917 1)" x="0 11.45 22.9 34.35" y="0">1000</text>
<text transform="translate(217.3 1527) scale(0.917 1)" x="0 11.45 22.9 34.35" y="0">1010</text>
<text transform="translate(282.7 1527) scale(0.917 1)" x="0 11.45 22.9 34.35" y="0">1020</text>
<text transform="translate(348.1 1527) scale(0.917 1)" x="0 11.45 22.9 34.35" y="0">1030</text>
<text transform="translate(413.5 1527) scale(0.917 1)" x="0 11.45 22.9 34.35" y="0">1040</text>
<text transform="translate(478.9 1527) scale(0.917 1)" x="0 11.45 22.9 34.35" y="0">1050</text>
<text transform="translate(544.3 1527) scale(0.917 1)" x="0 11.45 22.9 34.35" y="0">1060</text>
<text transform="translate(609.7 1527) scale(0.917 1)" x="0 11.45 22.9 34.35" y="0">1070</text>
<text transform="translate(675.1 1527) scale(0.917 1)" x="0 11.45 22.9 34.35" y="0">1080</text>
<text transform="translate(740.5 1527) scale(0.917 1)" x="0 11.45 22.9 34.35" y="0">1090</text>
<text transform="translate(805.9 1527) scale(0.917 1)" x="0 11.45 22.9 34.35" y="0">1100</text>
<text transform="translate(129 1505.4) scale(0.917 1)" x="0 10.58 22.9" y="0">0.0</text>
<text transform="translate(129 1452.7) scale(0.917 1)" x="0 10.58 22.9" y="0">0.1</text>
<text transform="translate(129 1400) scale(0.917 1)" x="0 10.58 22.9" y="0">0.2</text>
<text transform="translate(129 1347.3) scale(0.917 1)" x="0 10.58 22.9" y="0">0.3</text>
<text transform="translate(129 1294.6) scale(0.917 1)" x="0 10.58 22.9" y="0">0.4</text>
<text transform="translate(129 1241.9) scale(0.917 1)" x="0 10.58 22.9" y="0">0.5</text>
<text transform="translate(129 1189.2) scale(0.917 1)" x="0 10.58 22.9" y="0">0.6</text>
<text transform="translate(129 1136.5) scale(0.917 1)" x="0 10.58 22.9" y="0">0.7</text>
<text transform="translate(129 1083.8) scale(0.917 1)" x="0 10.58 22.9" y="0">0.8</text>
<text transform="translate(129 1031.1) scale(0.917 1)" x="0 10.58 22.9" y="0">0.9</text>
<text transform="translate(129 978.4) scale(0.917 1)" x="0 10.58 22.9" y="0">1.0</text>
</g>
<text class="at" transform="translate(397.95 1563.5) scale(0.855 1)" x="-1.4 25.26 36.26 50.99 67.37 80.58 94.97 112.75 130.06 141.05 157.89 178.48 188.77 203.04 225.73" y="0">Wavelength [nm]</text>
<text class="at" transform="translate(117.6 1233.5) rotate(-90) scale(0.63 1)" x="-53.17 -25.12 -2.37 9.14 37.31" y="0 0 -2.4 0 -2.4">R [%]</text>
</g>
<g id="labels">
<text class="cap" x="49.5" y="82.2" font-size="30.5" textLength="228.5" lengthAdjust="spacingAndGlyphs">Front  Side (S2)</text>
<text class="cap" x="334.5" y="770.9" font-size="30.5" textLength="320" lengthAdjust="spacingAndGlyphs">HR(0°,532nm)&gt;99.9%</text>
<text class="cap" x="1343.5" y="770.9" font-size="30.5" textLength="297" lengthAdjust="spacingAndGlyphs">R(0°,1064nm)&lt;0.5%</text>
<text class="cap" x="64" y="875.8" font-size="30.5" textLength="220.5" lengthAdjust="spacingAndGlyphs">Rear  Side (S1)</text>
<text class="cap" x="341" y="1637" font-size="30.5" textLength="336" lengthAdjust="spacingAndGlyphs">AR(0°,1064nm)&lt;0.25%</text>
</g>
</svg>
</body></html>
